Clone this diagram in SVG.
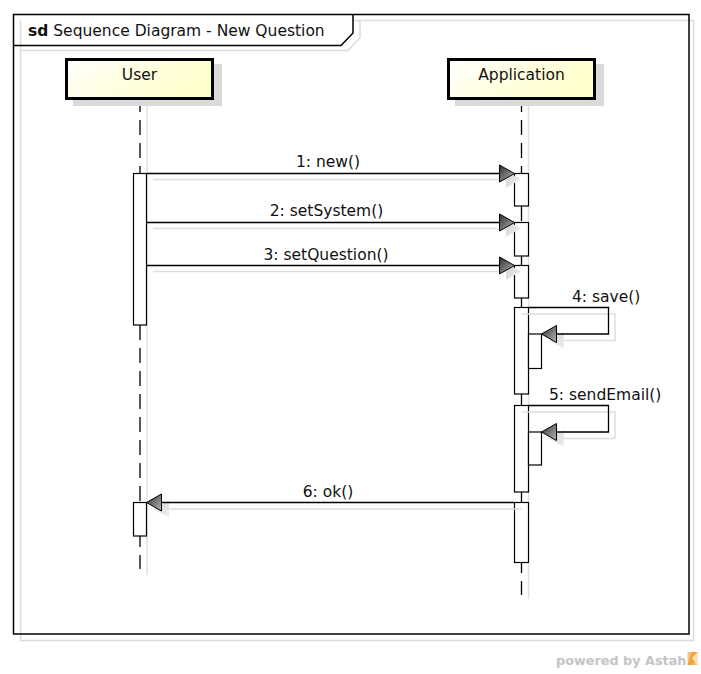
<svg xmlns="http://www.w3.org/2000/svg" width="701" height="674" viewBox="0 0 701 674">
  <defs>
    <linearGradient id="boxFill" x1="0" y1="0" x2="1" y2="0.4">
      <stop offset="0" stop-color="#ffffff"/>
      <stop offset="0.55" stop-color="#fffee0"/>
      <stop offset="1" stop-color="#ffffcc"/>
    </linearGradient>
    <linearGradient id="headFill" x1="0" y1="0" x2="1" y2="1">
      <stop offset="0" stop-color="#2e2e2e"/>
      <stop offset="1" stop-color="#b8b8b8"/>
    </linearGradient>
    <linearGradient id="headShadow" x1="0" y1="0" x2="1" y2="1">
      <stop offset="0" stop-color="#d0d0d0"/>
      <stop offset="1" stop-color="#f0f0f0"/>
    </linearGradient>
    <style>
      .txt { font-family: "DejaVu Sans", "Noto Sans", sans-serif; font-size: 15.5px; fill: #111; }
      .frame { fill: none; stroke: #000; stroke-width: 1.5; }
      .frameShadow { fill: none; stroke: #dcdcdc; stroke-width: 1.5; }
      .boxShadow { fill: #dadada; }
      .box { fill: url(#boxFill); stroke: #000; stroke-width: 3; }
      .life { stroke: #000; stroke-width: 1.3; stroke-dasharray: 15 8; fill: none; }
      .lifeShadow { stroke: #e0e0e0; stroke-width: 1.5; fill: none; }
      .act { fill: #fff; stroke: #000; stroke-width: 1.2; }
      .msg { stroke: #000; stroke-width: 1.3; fill: none; }
      .msgShadow { stroke: #dedede; stroke-width: 1.5; fill: none; }
      .head { fill: url(#headFill); stroke: #000; stroke-width: 1; }
      .headShadow { fill: url(#headShadow); stroke: none; }
    </style>
  </defs>

  <rect width="701" height="674" fill="#fff"/>

  <!-- diagram frame with its "sd" tab -->
  <g id="frame">
    <rect class="frameShadow" x="20.5" y="20.5" width="673" height="620"/>
    <polyline class="frameShadow" points="20.5,50.5 348,50.5 360,38 360,20.5"/>
    <polygon points="13.5,14.5 353,14.5 353,33 341,45.5 13.5,45.5" fill="#fff"/>
    <polyline class="frameShadow" points="20.5,20.5 20.5,45"/>
    <rect class="frame" x="13.5" y="14.5" width="675.5" height="619.5"/>
    <polyline class="frame" points="13.5,45.5 341,45.5 353,33 353,14.5"/>
    <text class="txt" x="28" y="36"><tspan font-weight="bold">sd</tspan> Sequence Diagram - New Question</text>
  </g>

  <!-- lifeline: User -->
  <g id="user">
    <line class="lifeShadow" x1="147" y1="104" x2="147" y2="575"/>
    <line class="life" x1="140" y1="97" x2="140" y2="173"/>
    <line class="life" x1="140" y1="325" x2="140" y2="502"/>
    <line class="life" x1="140" y1="532" x2="140" y2="569"/>
    <rect class="boxShadow" x="73" y="64" width="149" height="42"/>
    <rect class="box" x="66.5" y="59.5" width="146" height="39"/>
    <text class="txt" x="139.5" y="80" text-anchor="middle">User</text>
    <rect class="act" x="133.5" y="173.5" width="13" height="151.5"/>
    <rect class="act" x="133.5" y="502.5" width="13" height="33.5"/>
  </g>

  <!-- lifeline: Application -->
  <g id="application">
    <line class="lifeShadow" x1="528.5" y1="104" x2="528.5" y2="599"/>
    <line class="life" x1="521.5" y1="97" x2="521.5" y2="173"/>
    <line class="life" x1="521.5" y1="206" x2="521.5" y2="222"/>
    <line class="life" x1="521.5" y1="256" x2="521.5" y2="265"/>
    <line class="life" x1="521.5" y1="298" x2="521.5" y2="307"/>
    <line class="life" x1="521.5" y1="394" x2="521.5" y2="405"/>
    <line class="life" x1="521.5" y1="492" x2="521.5" y2="502"/>
    <line class="life" x1="521.5" y1="558" x2="521.5" y2="595"/>
    <rect class="boxShadow" x="455" y="64" width="149" height="42"/>
    <rect class="box" x="448.5" y="59.5" width="146" height="39"/>
    <text class="txt" x="521.5" y="80" text-anchor="middle">Application</text>
    <rect class="act" x="514.5" y="173.5" width="14" height="32.5"/>
    <rect class="act" x="514.5" y="222.5" width="14" height="33.5"/>
    <rect class="act" x="514.5" y="265.5" width="14" height="32.5"/>
    <rect class="act" x="514.5" y="307.5" width="14" height="86.5"/>
    <rect class="act" x="528.5" y="334" width="13" height="34.5"/>
    <rect class="act" x="514.5" y="405.5" width="14" height="86.5"/>
    <rect class="act" x="528.5" y="432" width="13" height="33"/>
    <rect class="act" x="514.5" y="502.5" width="14" height="60"/>
  </g>

  <!-- messages -->
  <g id="connectors">
    <!-- 1: new() -->
    <line class="msgShadow" x1="153" y1="179.5" x2="507" y2="179.5"/>
    <polygon class="headShadow" points="506,171 521,179.5 506,188"/>
    <line class="msg" x1="146.5" y1="173.5" x2="500" y2="173.5"/>
    <polygon class="head" points="499.5,165 514.5,173.5 499.5,182"/>
    <text class="txt" x="328" y="167" text-anchor="middle">1: new()</text>

    <!-- 2: setSystem() -->
    <line class="msgShadow" x1="153" y1="228.5" x2="507" y2="228.5"/>
    <polygon class="headShadow" points="506,220 521,228.5 506,237"/>
    <line class="msg" x1="146.5" y1="222.5" x2="500" y2="222.5"/>
    <polygon class="head" points="499.5,214 514.5,222.5 499.5,231"/>
    <text class="txt" x="326.5" y="216" text-anchor="middle">2: setSystem()</text>

    <!-- 3: setQuestion() -->
    <line class="msgShadow" x1="153" y1="271.5" x2="507" y2="271.5"/>
    <polygon class="headShadow" points="506,263 521,271.5 506,280"/>
    <line class="msg" x1="146.5" y1="265.5" x2="500" y2="265.5"/>
    <polygon class="head" points="499.5,257 514.5,265.5 499.5,274"/>
    <text class="txt" x="326" y="260" text-anchor="middle">3: setQuestion()</text>

    <!-- 4: save() (self call) -->
    <polyline class="msgShadow" points="522,314 615,314 615,340.5 563,340.5"/>
    <polygon class="headShadow" points="549,340.5 564,332 564,349"/>
    <polyline class="msg" points="528.5,307.5 608.5,307.5 608.5,334 556,334"/>
    <polygon class="head" points="541.5,334 556.5,325.5 556.5,342.5"/>
    <text class="txt" x="572" y="302">4: save()</text>

    <!-- 5: sendEmail() (self call) -->
    <polyline class="msgShadow" points="522,412 615,412 615,438.5 563,438.5"/>
    <polygon class="headShadow" points="549,438.5 564,430 564,447"/>
    <polyline class="msg" points="528.5,405.5 608.5,405.5 608.5,432 556,432"/>
    <polygon class="head" points="541.5,432 556.5,423.5 556.5,440.5"/>
    <text class="txt" x="549" y="400">5: sendEmail()</text>

    <!-- 6: ok() -->
    <line class="msgShadow" x1="163" y1="509" x2="521.5" y2="509"/>
    <polygon class="headShadow" points="154,509 169,500.5 169,517.5"/>
    <line class="msg" x1="162" y1="502.5" x2="514.5" y2="502.5"/>
    <polygon class="head" points="146.5,502.5 161.5,494 161.5,511"/>
    <text class="txt" x="328" y="497" text-anchor="middle">6: ok()</text>
  </g>

  <!-- footer credit -->
  <g id="credit">
    <text x="556" y="665" font-family="DejaVu Sans, sans-serif" font-size="12.8" font-weight="bold" fill="#c4c4c4">powered by Astah</text>
    <rect x="687.5" y="652" width="10" height="13" fill="#f6c27a"/>
    <polygon points="687.5,665 692,652 697.5,652 693,665" fill="#f0a43c"/>
    <polygon points="692,658 697.5,652 697.5,665" fill="#fbe2b8"/>
  </g>
</svg>
